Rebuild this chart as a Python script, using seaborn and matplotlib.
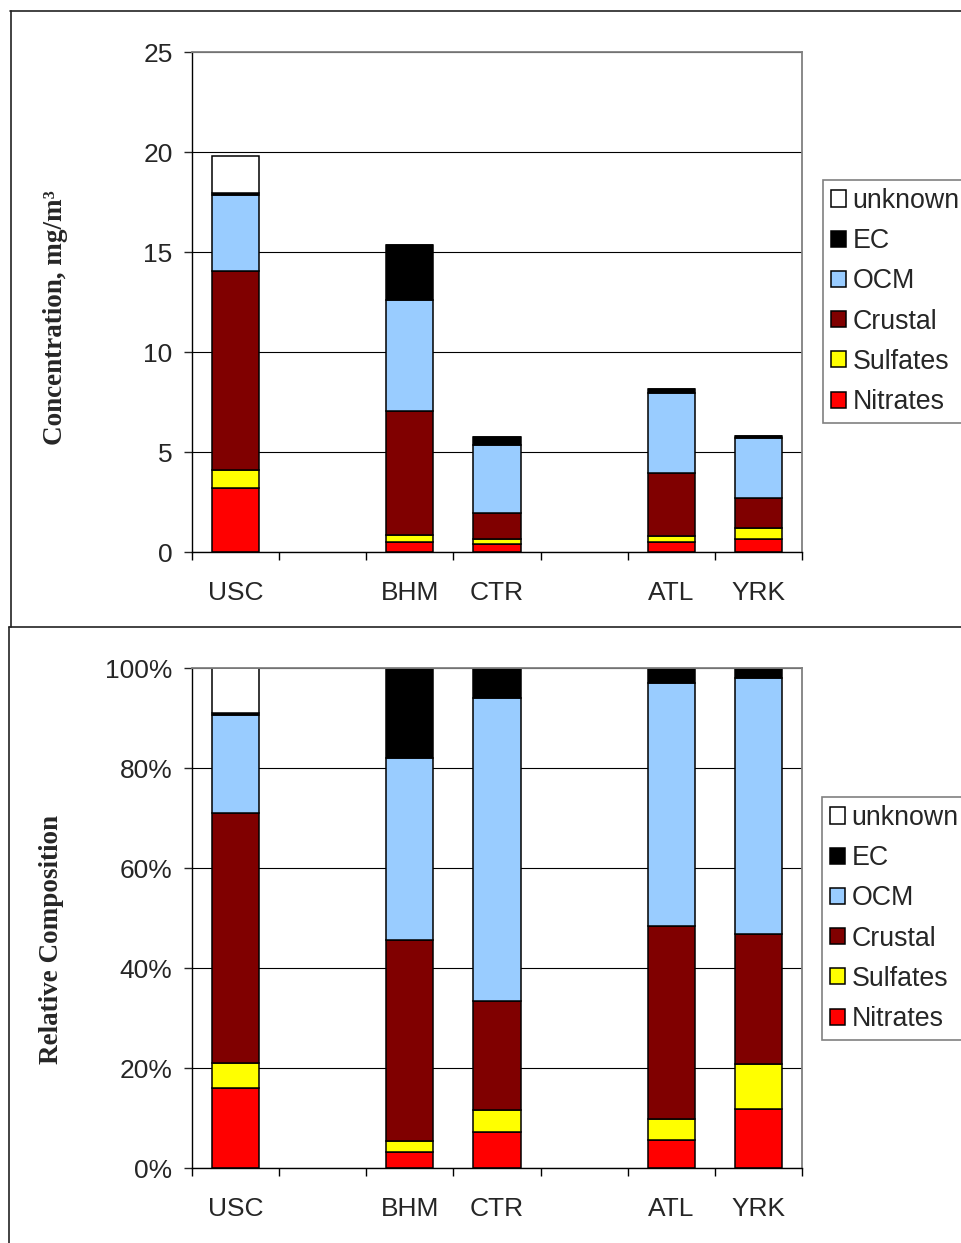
import seaborn as sns
import pandas as pd
import numpy as np
import matplotlib
matplotlib.use('Agg')
from matplotlib import pyplot as plt
from matplotlib.lines import Line2D
from matplotlib.ticker import PercentFormatter

W, H = 962, 1243

sites = ['USC', 'BHM', 'CTR', 'ATL', 'YRK']
slots = ['USC', ' ', 'BHM', 'CTR', '  ', 'ATL', 'YRK']
components = ['Nitrates', 'Sulfates', 'Crustal', 'OCM', 'EC', 'unknown']
colors = ['#FF0000', '#FFFF00', '#800000', '#99CCFF', '#000000', '#FFFFFF']

# concentrations (top panel)
nitrates = [3.22, 0.48, 0.40, 0.48, 0.67]
sulfates = [0.88, 0.35, 0.25, 0.34, 0.51]
crustal = [9.97, 6.24, 1.28, 3.15, 1.50]
ocm = [3.78, 5.53, 3.42, 3.98, 3.00]
ec = [0.12, 2.75, 0.38, 0.20, 0.14]
unknown = [1.83, 0, 0, 0, 0]

# relative composition, % (bottom panel)
pct_nitrates = [16.1, 3.3, 7.3, 5.7, 11.8]
pct_sulfates = [5.0, 2.1, 4.4, 4.2, 9.0]
pct_crustal = [49.9, 40.3, 21.8, 38.5, 26.0]
pct_ocm = [19.7, 36.3, 60.6, 48.7, 51.3]
pct_ec = [0.3, 18.0, 5.9, 2.9, 1.9]
pct_unknown = [9.0, 0, 0, 0, 0]

conc = pd.DataFrame(dict(zip(components, [nitrates, sulfates, crustal, ocm, ec, unknown])), index=sites)
pct = pd.DataFrame(dict(zip(components, [pct_nitrates, pct_sulfates, pct_crustal, pct_ocm, pct_ec, pct_unknown])), index=sites)

sns.set_style('ticks')
plt.rcParams['font.family'] = ['Liberation Sans', 'DejaVu Sans']


def px(x, y):
    return x / W, 1 - y / H


def stacked(ax, df):
    bottom = np.zeros(len(sites))
    for comp, col in zip(components, colors):
        vals = df[comp].values
        sns.barplot(x=sites, y=vals, order=slots, color=col, saturation=1, bottom=bottom,
                    width=0.54, edgecolor='black', linewidth=1.1, errorbar=None,
                    label=comp, ax=ax)
        bottom = bottom + vals


def style(ax, legend_xy):
    ax.set_axisbelow(True)
    ax.yaxis.grid(True, color='black', lw=0.8)
    ax.xaxis.grid(False)
    for s in ['top', 'right']:
        ax.spines[s].set_visible(True)
        ax.spines[s].set_color('#808080')
        ax.spines[s].set_linewidth(1.3)
    for s in ['left', 'bottom']:
        ax.spines[s].set_color('black')
        ax.spines[s].set_linewidth(1.0)
    ax.set_xlim(-0.5, 6.5)
    ax.set_xticks(range(len(slots)))
    ax.set_xticklabels(slots, fontsize=19)
    ax.set_xticks(np.arange(-0.5, 7, 1), minor=True)
    ax.tick_params(axis='x', which='major', length=0, pad=21)
    ax.tick_params(axis='x', which='minor', length=6, width=1, color='black', direction='out')
    ax.tick_params(axis='y', length=6, width=1, pad=8, labelsize=19, direction='out')
    ax.set_xlabel('')
    h, l = ax.get_legend_handles_labels()
    leg = ax.legend(h[::-1], l[::-1], loc='upper left', bbox_to_anchor=px(*legend_xy),
                    bbox_transform=ax.figure.transFigure, frameon=True, fancybox=False,
                    edgecolor='#808080', framealpha=1, fontsize=19.3, handlelength=0.55,
                    handleheight=0.55, handletextpad=0.25, labelspacing=0.53,
                    borderpad=0.3, borderaxespad=0)
    leg.get_frame().set_linewidth(1.2)


fig = plt.figure(figsize=(W / 100, H / 100), dpi=100)

ax1 = fig.add_axes([192 / W, 1 - 552 / H, 610 / W, 500 / H])
stacked(ax1, conc)
ax1.set_ylim(0, 25)
ax1.set_yticks(range(0, 26, 5))
style(ax1, (823, 180))
ax1.set_ylabel('Concentration, mg/m³', fontfamily='Liberation Serif', fontweight='bold', fontsize=19.5)
ax1.yaxis.set_label_coords(-0.203, 0.468)

ax2 = fig.add_axes([192 / W, 1 - 1168 / H, 610 / W, 500 / H])
stacked(ax2, pct)
ax2.set_ylim(0, 100)
ax2.set_yticks(range(0, 101, 20))
ax2.yaxis.set_major_formatter(PercentFormatter(100, decimals=0))
style(ax2, (822, 797))
ax2.set_ylabel('Relative Composition', fontfamily='Liberation Serif', fontweight='bold', fontsize=19.5)
ax2.yaxis.set_label_coords(-0.21, 0.456)

# panel frames
for (x0, y0), (x1, y1) in [((10, 11), (962, 11)), ((11, 11), (11, 627)),
                           ((9, 627), (962, 627)), ((9, 627), (9, 1243))]:
    a, b = px(x0, y0)
    c, d = px(x1, y1)
    fig.add_artist(Line2D([a, c], [b, d], transform=fig.transFigure, color='#222222', lw=1.2))

fig.savefig('out.png', dpi=100)
